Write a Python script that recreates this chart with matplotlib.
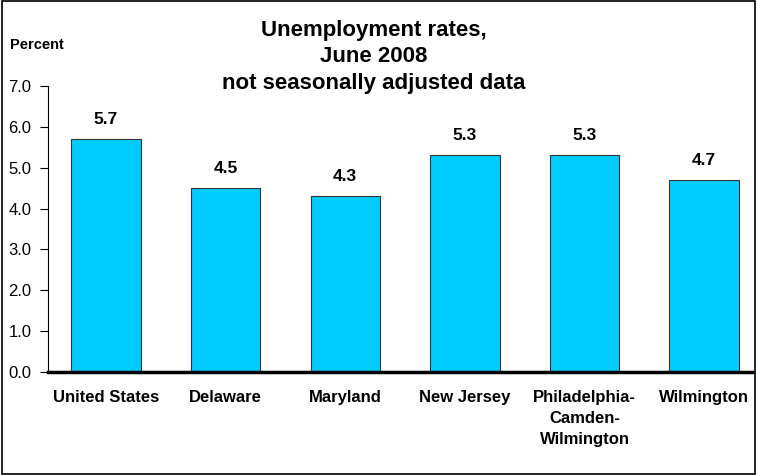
import matplotlib.pyplot as plt
from matplotlib.patches import Rectangle

# data
areas = ["United States", "Delaware", "Maryland", "New Jersey",
         "Philadelphia-\nCamden-\nWilmington", "Wilmington"]
rates = [5.7, 4.5, 4.3, 5.3, 5.3, 4.7]
y_ticks = [0, 1, 2, 3, 4, 5, 6, 7]

plt.rcParams["font.family"] = ["Liberation Sans", "DejaVu Sans"]

fig = plt.figure(figsize=(7.57, 4.75), dpi=100)
ax = fig.add_axes([0.0634, 0.2168, 0.93, 0.6021])

x = list(range(len(areas)))
ax.bar(x, rates, width=0.58, color="#00CCFF", edgecolor="#333333", linewidth=0.8)

# value labels on top of the bars
for xi, r in zip(x, rates):
    ax.text(xi, r + 0.3, f"{r:.1f}", ha="center", va="bottom",
            fontsize=12.5, fontweight="bold")

ax.set_xlim(-0.485, 5.4)
ax.set_ylim(0, 7)
ax.set_yticks(y_ticks)
ax.set_yticklabels([f"{v:.1f}" for v in y_ticks], fontsize=12)
ax.set_xticks(x)
ax.set_xticklabels(areas, fontsize=12, fontweight="bold", linespacing=1.48)
ax.tick_params(axis="x", length=0, pad=13)
ax.tick_params(axis="y", direction="out", length=6, width=0.8, pad=6)

for s in ["top", "right"]:
    ax.spines[s].set_visible(False)
ax.spines["left"].set_linewidth(0.8)
ax.spines["bottom"].set_linewidth(2.5)

fig.text(0.494, 1 - 20 / 475, "Unemployment rates,\nJune 2008\nnot seasonally adjusted data",
         ha="center", va="top", fontsize=16, fontweight="bold", linespacing=1.33)
fig.text(0.013, 0.905, "Percent", ha="left", va="center",
         fontsize=10.5, fontweight="bold")

# frame around the whole picture
fig.patches.append(Rectangle((0.003, 0.003), 0.994, 0.994, transform=fig.transFigure,
                             fill=False, edgecolor="black", linewidth=1.2))

fig.savefig("out.png", dpi=100)
